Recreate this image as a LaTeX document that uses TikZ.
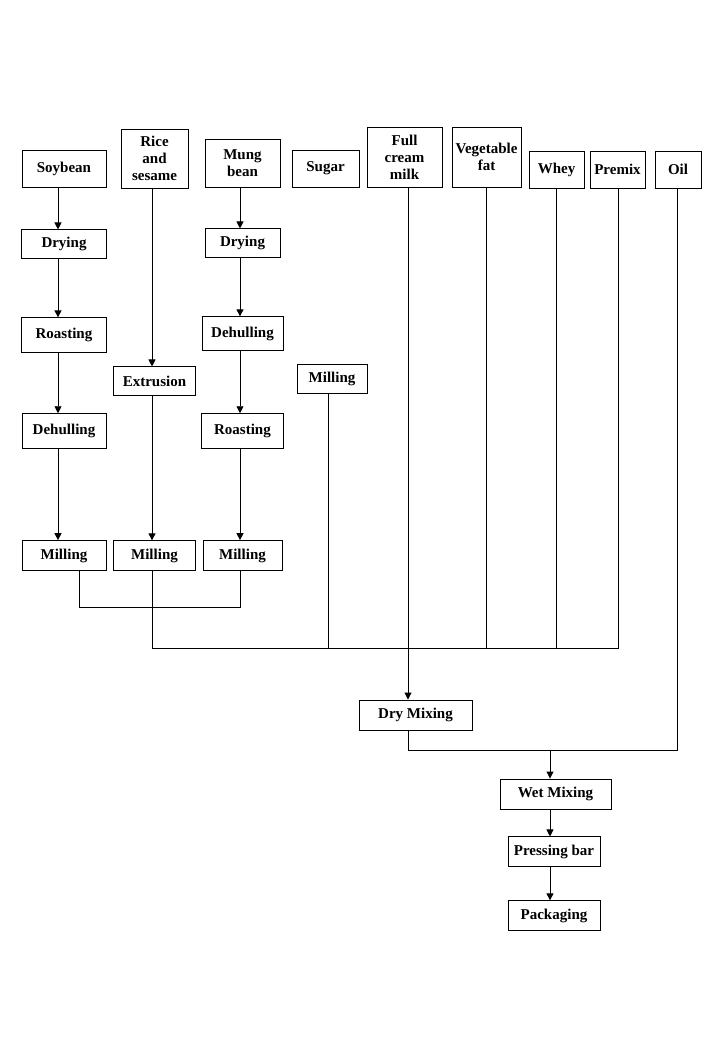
\documentclass[tikz,border=0pt]{standalone}
\usepackage{fontspec}
\setmainfont{Liberation Serif}
\usepackage{tikz}
\usetikzlibrary{positioning,arrows.meta}
\tikzset{
  paso/.style={rectangle, draw=black, line width=0.9pt, align=center, inner sep=1pt,
    font=\fontsize{15}{17}\selectfont\bfseries},
  flecha/.style={-{Triangle[length=7pt,width=7pt]}, line width=0.9pt},
  linea/.style={line width=0.9pt},
}

\begin{document}
\begin{tikzpicture}[x=1pt,y=1pt]
  \useasboundingbox (0,0) rectangle (720,-1040);
  \coordinate (cs) at (58,0);
  \coordinate (cs2) at (79,0);
  \coordinate (cr) at (152,0);
  \coordinate (cm) at (240,0);
  \coordinate (cu) at (328,0);
  \coordinate (cf) at (408,0);
  \coordinate (cv) at (486,0);
  \coordinate (cw) at (556,0);
  \coordinate (cp) at (618,0);
  \coordinate (co) at (677,0);
  \coordinate (cx) at (550,0);
  \coordinate (bus1) at (0,-607);
  \coordinate (bus2) at (0,-648);
  \coordinate (bus3) at (0,-750);
  \node[paso, minimum width=84pt, minimum height=37pt] (soy) at (64,-168.5) {Soybean};
  \node[paso, minimum width=67pt, minimum height=59pt] (rice) at (154.5,-158.5) {Rice\\and\\sesame};
  \node[paso, minimum width=75pt, minimum height=48pt] (mung) at (242.5,-163) {Mung\\bean};
  \node[paso, minimum width=67pt, minimum height=37pt] (sug) at (325.5,-168.5) {Sugar};
  \node[paso, minimum width=75pt, minimum height=60pt] (milk) at (404.5,-157) {Full\\cream\\milk};
  \node[paso, minimum width=69pt, minimum height=60pt] (veg) at (486.5,-157) {Vegetable\\fat};
  \node[paso, minimum width=55pt, minimum height=37pt] (whey) at (556.5,-169.5) {Whey};
  \node[paso, minimum width=55pt, minimum height=37pt] (prem) at (617.5,-169.5) {Premix};
  \node[paso, minimum width=46pt, minimum height=37pt] (oil) at (678,-169.5) {Oil};
  \node[paso, minimum width=85pt, minimum height=29pt, below=42pt of soy] (d1) {Drying};
  \node[paso, minimum width=85pt, minimum height=35pt, below=58pt of d1] (r1) {Roasting};
  \node[paso, minimum width=84pt, minimum height=35pt, below=60pt of r1] (h1) {Dehulling};
  \node[paso, minimum width=84pt, minimum height=30pt, below=91pt of h1] (m1) {Milling};
  \node[paso, minimum width=82pt, minimum height=29pt, below=178pt of rice] (ex) {Extrusion};
  \node[paso, minimum width=82pt, minimum height=30pt, below=144pt of ex] (m2) {Milling};
  \node[paso, minimum width=75pt, minimum height=29pt, below=41pt of mung] (d3) {Drying};
  \node[paso, minimum width=81pt, minimum height=34pt, below=58pt of d3] (h3) {Dehulling};
  \node[paso, minimum width=82pt, minimum height=35pt, below=62pt of h3] (r3) {Roasting};
  \node[paso, minimum width=79pt, minimum height=30pt, below=91pt of r3] (m3) {Milling};
  \node[paso, minimum width=70pt, minimum height=29pt] (mu) at (332,-378.5) {Milling};
  \node[paso, minimum width=113pt, minimum height=30pt] (dm) at (415.5,-715) {Dry Mixing};
  \node[paso, minimum width=111pt, minimum height=30pt] (wm) at (555.5,-794) {Wet Mixing};
  \node[paso, minimum width=92pt, minimum height=30pt, below=27pt of wm.south -| {(554,0)}, anchor=north] (pb) {Pressing bar};
  \node[paso, minimum width=92pt, minimum height=30pt, below=33pt of pb] (pk) {Packaging};
  \draw[flecha] (soy.south -| cs) -- (d1.north -| cs);
  \draw[flecha] (d1.south -| cs) -- (r1.north -| cs);
  \draw[flecha] (r1.south -| cs) -- (h1.north -| cs);
  \draw[flecha] (h1.south -| cs) -- (m1.north -| cs);
  \draw[flecha] (rice.south -| cr) -- (ex.north -| cr);
  \draw[flecha] (ex.south -| cr) -- (m2.north -| cr);
  \draw[flecha] (mung.south -| cm) -- (d3.north -| cm);
  \draw[flecha] (d3.south -| cm) -- (h3.north -| cm);
  \draw[flecha] (h3.south -| cm) -- (r3.north -| cm);
  \draw[flecha] (r3.south -| cm) -- (m3.north -| cm);
  \draw[linea] (m1.south -| cs2) |- (bus1 -| cm) -- (m3.south -| cm);
  \draw[linea] (m2.south -| cr) |- (bus2 -| cp) -- (prem.south -| cp);
  \draw[linea] (mu.south -| cu) -- (bus2 -| cu);
  \draw[linea] (veg.south -| cv) -- (bus2 -| cv);
  \draw[linea] (whey.south -| cw) -- (bus2 -| cw);
  \draw[flecha] (milk.south -| cf) -- (dm.north -| cf);
  \draw[linea] (dm.south -| cf) |- (bus3 -| co) -- (oil.south -| co);
  \draw[flecha] (bus3 -| cx) -- (wm.north -| cx);
  \draw[flecha] (wm.south -| cx) -- (pb.north -| cx);
  \draw[flecha] (pb.south -| cx) -- (pk.north -| cx);
\end{tikzpicture}
\end{document}
